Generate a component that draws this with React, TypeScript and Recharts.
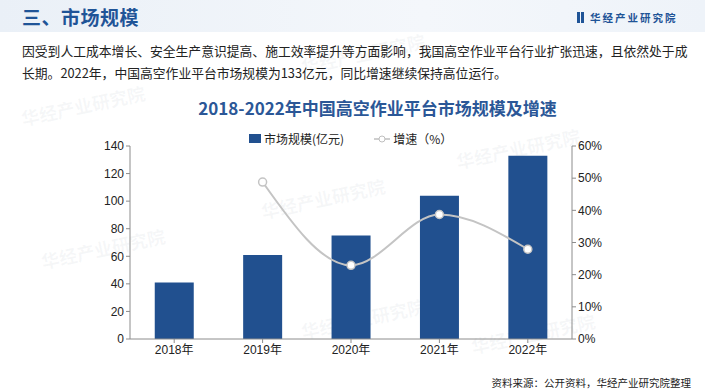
import { ComposedChart, Bar, Line, XAxis, YAxis } from 'recharts';

const years = ['2018年', '2019年', '2020年', '2021年', '2022年'];
const marketSize = [41, 61, 75, 104, 133];
const growth = [null, 48.8, 22.9, 38.7, 27.9];
const leftTicks = [0, 20, 40, 60, 80, 100, 120, 140];
const rightTicks = [0, 10, 20, 30, 40, 50, 60];

const data = years.map((y, i) => ({ year: y, size: marketSize[i], growth: growth[i] }));

const BLUE = '#21508f';
const AXIS = '#8c8c8c';
const CJK = '"Noto Sans CJK SC", "Noto Sans", sans-serif';
const LATIN = '"Liberation Sans", Arial, "Noto Sans CJK SC", sans-serif';

const marks = [
  { x: 20, y: 92 }, { x: 300, y: 40 }, { x: 40, y: 235 }, { x: 300, y: 305 },
  { x: 260, y: 185 }, { x: 455, y: 135 }, { x: 470, y: 320 },
];

export default function App() {
  return (
    <div style={{ position: 'absolute', left: 0, top: 0, width: 705, height: 392, background: '#fff', overflow: 'hidden', fontFamily: CJK }}>
      {/* header band */}
      <div style={{ position: 'absolute', left: 0, top: 0, width: 705, height: 32, background: 'linear-gradient(90deg, #eaf0f7 0%, #f4f7fb 60%, #eef3f9 100%)' }} />
      <div style={{ position: 'absolute', left: 22, top: 3, fontSize: 19, fontWeight: 700, color: '#1f5497', letterSpacing: 0.5 }}>三、市场规模</div>
      <div style={{ position: 'absolute', left: 577, top: 10, display: 'flex', alignItems: 'center', gap: 6 }}>
        <span style={{ display: 'inline-block', width: 3, height: 11, background: '#1f5497', marginRight: 1 }} />
        <span style={{ display: 'inline-block', width: 3, height: 11, background: '#1f5497', marginLeft: -6 }} />
        <span style={{ fontSize: 10.5, fontWeight: 700, color: '#1f5497', letterSpacing: 2 }}>华经产业研究院</span>
      </div>

      {/* watermarks */}
      {marks.map((m, i) => (
        <div key={i} style={{ position: 'absolute', left: m.x, top: m.y, transform: 'rotate(-12deg)', fontSize: 18, fontWeight: 700, color: 'rgba(150,160,175,0.09)', whiteSpace: 'nowrap' }}>
          华经产业研究院
        </div>
      ))}

      {/* paragraph */}
      <div style={{ position: 'absolute', left: 22, top: 40, width: 671, fontSize: 12.8, lineHeight: '22px', color: '#222' }}>
        因受到人工成本增长、安全生产意识提高、施工效率提升等方面影响，我国高空作业平台行业扩张迅速，且依然处于成长期。2022年，中国高空作业平台市场规模为133亿元，同比增速继续保持高位运行。
      </div>

      {/* title */}
      <div style={{ position: 'absolute', left: 0, top: 95, width: 705, paddingLeft: 50, boxSizing: 'border-box', textAlign: 'center', fontSize: 17, fontWeight: 700, color: '#2b5797' }}>
        2018-2022年中国高空作业平台市场规模及增速
      </div>

      {/* legend */}
      <div style={{ position: 'absolute', left: 249, top: 130, display: 'flex', alignItems: 'center', fontSize: 12, color: '#222' }}>
        <span style={{ display: 'inline-block', width: 12, height: 9, background: BLUE, marginRight: 3 }} />
        <span>市场规模(亿元)</span>
        <svg width={16} height={10} style={{ marginLeft: 30, marginRight: 3 }}>
          <line x1={0} y1={5} x2={16} y2={5} stroke="#bfbfbf" strokeWidth={1.5} />
          <circle cx={8} cy={5} r={3} fill="#fff" stroke="#bfbfbf" strokeWidth={1} />
        </svg>
        <span>增速（%）</span>
      </div>

      <div style={{ position: 'absolute', left: 0, top: 0 }}>
        <ComposedChart width={705} height={392} data={data} margin={{ top: 146, right: 83, bottom: 23, left: 90 }} barCategoryGap="28%">
          <XAxis
            dataKey="year"
            stroke={AXIS}
            tickLine={{ stroke: AXIS }}
            tickSize={4}
            interval={0}
            tick={{ fill: '#222', fontSize: 12, fontFamily: LATIN }}
            height={30}
          />
          <YAxis
            yAxisId="left"
            domain={[0, 140]}
            ticks={leftTicks}
            stroke={AXIS}
            tickSize={4}
            tick={{ fill: '#222', fontSize: 12, fontFamily: LATIN }}
            width={40}
          />
          <YAxis
            yAxisId="right"
            orientation="right"
            domain={[0, 60]}
            ticks={rightTicks}
            tickFormatter={(v) => `${v}%`}
            stroke={AXIS}
            tickSize={4}
            tick={{ fill: '#222', fontSize: 12, fontFamily: LATIN }}
            width={50}
          />
          <Bar yAxisId="left" dataKey="size" fill={BLUE} isAnimationActive={false} />
          <Line
            yAxisId="right"
            dataKey="growth"
            type="monotone"
            stroke="#c4c4c4"
            strokeWidth={2}
            dot={{ r: 4, fill: '#fff', stroke: '#c4c4c4', strokeWidth: 1.5 }}
            connectNulls={false}
            isAnimationActive={false}
          />
        </ComposedChart>
      </div>

      {/* source */}
      <div style={{ position: 'absolute', right: 14, top: 375, fontSize: 10.5, color: '#222' }}>
        资料来源：公开资料，华经产业研究院整理
      </div>
    </div>
  );
}
